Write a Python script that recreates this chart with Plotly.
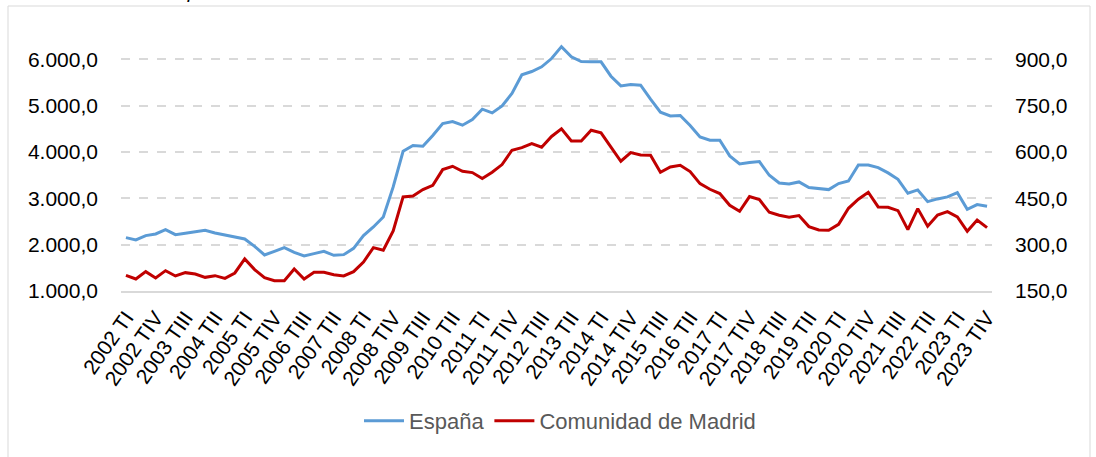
import plotly.graph_objects as go

years = list(range(2002, 2024))
quarters = ["TI", "TII", "TIII", "TIV"]
categories = [f"{y} {q}" for y in years for q in quarters]

espana = [2151, 2101, 2194, 2230, 2324, 2216, 2245, 2281, 2309, 2252,
          2209, 2180, 2122, 1964, 1777, 1856, 1935, 1835, 1755, 1806,
          1856, 1770, 1784, 1921, 2194, 2381, 2597, 3245, 4014, 4137,
          4122, 4353, 4612, 4655, 4576, 4698, 4921, 4842, 4993, 5259,
          5662, 5734, 5835, 6014, 6270, 6050, 5950, 5942, 5942, 5633,
          5424, 5453, 5439, 5137, 4856, 4777, 4784, 4568, 4324, 4252,
          4252, 3914, 3741, 3770, 3791, 3496, 3331, 3309, 3353, 3230,
          3209, 3187, 3317, 3374, 3719, 3719, 3662, 3547, 3410, 3108,
          3180, 2928, 2986, 3029, 3122, 2763, 2863, 2827]

madrid = [200.7, 188.8, 212.6, 192.1, 215.8, 198.6, 209.4, 205.0, 194.2, 199.6,
          191.0, 208.3, 253.6, 219.1, 193.2, 183.5, 183.5, 221.2, 188.8, 210.4,
          210.4, 202.9, 198.6, 212.6, 243.9, 290.3, 281.7, 344.2, 454.3, 457.6,
          478.1, 492.1, 542.8, 553.6, 537.4, 533.1, 513.7, 534.2, 559.0, 605.4,
          614.0, 627.0, 615.1, 650.0, 674.5, 635.6, 635.6, 670.1, 661.5, 616.2,
          569.8, 597.8, 590.3, 589.2, 534.2, 551.4, 556.8, 536.3, 497.4, 479.1,
          465.1, 427.3, 407.9, 455.4, 445.7, 404.6, 394.9, 388.5, 393.9, 358.3,
          347.5, 346.4, 365.8, 417.6, 446.8, 469.4, 421.9, 420.8, 410.1, 348.6,
          416.5, 359.4, 396.0, 406.8, 389.6, 343.2, 379.8, 355.0]

tick_labels = categories[::3]

W, H = 1096, 457
L, R, T, B = 121, 104, 36, 166
pw, ph = W - L - R, H - T - B

def px(x):
    return (x - L) / pw

def py(y):
    return (H - B - y) / ph

font_family = "Liberation Sans, Arial, sans-serif"

fig = go.Figure()
fig.add_trace(go.Scatter(x=categories, y=espana, name="España", mode="lines",
                         line=dict(color="#5B9BD5", width=3), yaxis="y"))
fig.add_trace(go.Scatter(x=categories, y=madrid, name="Comunidad de Madrid", mode="lines",
                         line=dict(color="#C00000", width=3), yaxis="y2"))

fig.update_layout(
    width=W, height=H,
    margin=dict(l=L, r=R, t=T, b=B, pad=0),
    paper_bgcolor="white", plot_bgcolor="white",
    separators=",.",
    font=dict(family=font_family, size=20, color="#000000"),
    showlegend=True,
    legend=dict(orientation="h", xref="container", yref="container",
                x=560 / W, xanchor="center", y=(H - 421) / H, yanchor="middle",
                font=dict(size=22, color="#595959"), itemwidth=40, tracegroupgap=0,
                bgcolor="rgba(0,0,0,0)"),
    xaxis=dict(type="category", range=[-0.5, len(categories) - 0.5],
               tickmode="array", tickvals=tick_labels, ticktext=tick_labels,
               tickangle=-55, tickfont=dict(size=21, color="#000000"),
               showgrid=False, showline=True, linecolor="#D9D9D9", linewidth=2,
               ticks="", ticklabelstandoff=4, automargin=False, zeroline=False),
    yaxis=dict(range=[1000, 6500], tick0=1000, dtick=1000, tickformat=",.1f",
               showgrid=True, gridcolor="#D9D9D9", gridwidth=1.5, griddash="dash",
               zeroline=False, showline=False, ticks="", ticklabelstandoff=22,
               tickfont=dict(size=21), automargin=False),
    yaxis2=dict(range=[150, 975], tick0=150, dtick=150, tickformat=".1f",
                overlaying="y", side="right", showgrid=False, zeroline=False,
                showline=False, ticks="", ticklabelstandoff=22,
                tickfont=dict(size=21), automargin=False),
    shapes=[dict(type="rect", xref="paper", yref="paper",
                 x0=px(8), x1=px(1090), y0=py(520), y1=py(6),
                 line=dict(color="#D9D9D9", width=1), fillcolor="rgba(0,0,0,0)",
                 layer="below")],
    annotations=[dict(text="<i>Unidades: miles de personas</i>", xref="paper", yref="paper",
                      x=px(10), y=py(4), xanchor="left", yanchor="bottom",
                      showarrow=False, font=dict(size=20, color="#000000"))],
)

fig.write_html("out.html", config={"displayModeBar": False},
               post_script="document.body.style.margin='0';document.body.style.overflow='hidden';")
